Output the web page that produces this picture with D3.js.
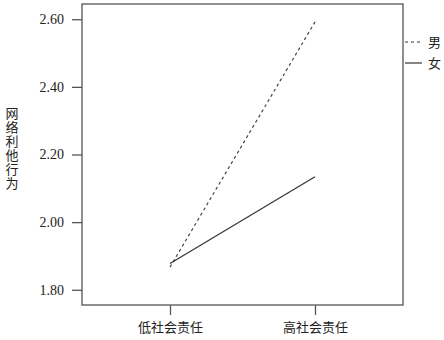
<!DOCTYPE html>
<html><head>
<meta charset="utf-8">
<script src="https://d3js.org/d3.v7.min.js"></script>
<style>
body { margin: 0; background: #fff; }
</style>
</head>
<body>
<div id="chart"></div>
<script>
// data
var categories = ["低社会责任", "高社会责任"];
var seriesNames = ["男", "女"];
var maleValues = [1.867, 2.592];
var femaleValues = [1.878, 2.134];
var yTicks = [1.80, 2.00, 2.20, 2.40, 2.60];
var yTitle = "网络利他行为";

var W = 444, H = 340;
var margin = {top: 4, right: 41, bottom: 35, left: 82};
var width = W - margin.left - margin.right;
var height = H - margin.top - margin.bottom;

var svg = d3.select("#chart").append("svg")
    .attr("width", W).attr("height", H);
var g = svg.append("g")
    .attr("transform", "translate(" + margin.left + "," + margin.top + ")");

var x = d3.scalePoint().domain(categories).range([0, width]).padding(0.607);
var y = d3.scaleLinear().domain([1.755, 2.645]).range([height, 0]);

// frame
g.append("rect")
    .attr("width", width).attr("height", height)
    .attr("fill", "none").attr("stroke", "#555").attr("stroke-width", 1.3);

var yAxis = g.append("g")
    .call(d3.axisLeft(y).tickValues(yTicks).tickFormat(d3.format(".2f")).tickSize(10).tickPadding(8));
yAxis.select(".domain").remove();
yAxis.selectAll("line").attr("stroke", "#555").attr("stroke-width", 1.3);
yAxis.selectAll("text").style("font-family", "'Liberation Serif', serif")
    .style("font-size", "14px").attr("fill", "#222");

var xAxis = g.append("g")
    .attr("transform", "translate(0," + height + ")")
    .call(d3.axisBottom(x).tickSize(10).tickPadding(8));
xAxis.select(".domain").remove();
xAxis.selectAll("line").attr("stroke", "#555").attr("stroke-width", 1.3);
xAxis.selectAll("text").style("font-family", "'Noto Sans CJK SC'").style("font-size", "13px").attr("fill", "#222");

var line = d3.line()
    .x(function(d, i) { return x(categories[i]); })
    .y(function(d) { return y(d); });

g.append("path").datum(maleValues)
    .attr("fill", "none").attr("stroke", "#444").attr("stroke-width", 1.2)
    .attr("stroke-dasharray", "3,3").attr("d", line);
g.append("path").datum(femaleValues)
    .attr("fill", "none").attr("stroke", "#333").attr("stroke-width", 1.2)
    .attr("d", line);

// legend
var leg = svg.append("g").attr("transform", "translate(405,42)");
seriesNames.forEach(function(s, i) {
  var row = leg.append("g").attr("transform", "translate(0," + (i * 21) + ")");
  row.append("line").attr("x1", 0).attr("x2", 17).attr("y1", 0).attr("y2", 0)
    .attr("stroke", "#333").attr("stroke-width", 1.2)
    .attr("stroke-dasharray", i === 0 ? "3,3" : null);
  row.append("text").attr("x", 23).attr("y", 0).attr("dy", "0.35em")
    .style("font-family", "'Noto Sans CJK SC'").style("font-size", "13px").attr("fill", "#222")
    .text(s);
});

// vertical y title
svg.append("text")
    .attr("x", 12).attr("y", 149)
    .attr("text-anchor", "middle")
    .style("writing-mode", "vertical-rl")
    .style("text-orientation", "upright")
    .style("letter-spacing", "1px")
    .style("font-family", "'Noto Sans CJK SC'").style("font-size", "13px").attr("fill", "#222")
    .text(yTitle);
</script>
</body></html>
